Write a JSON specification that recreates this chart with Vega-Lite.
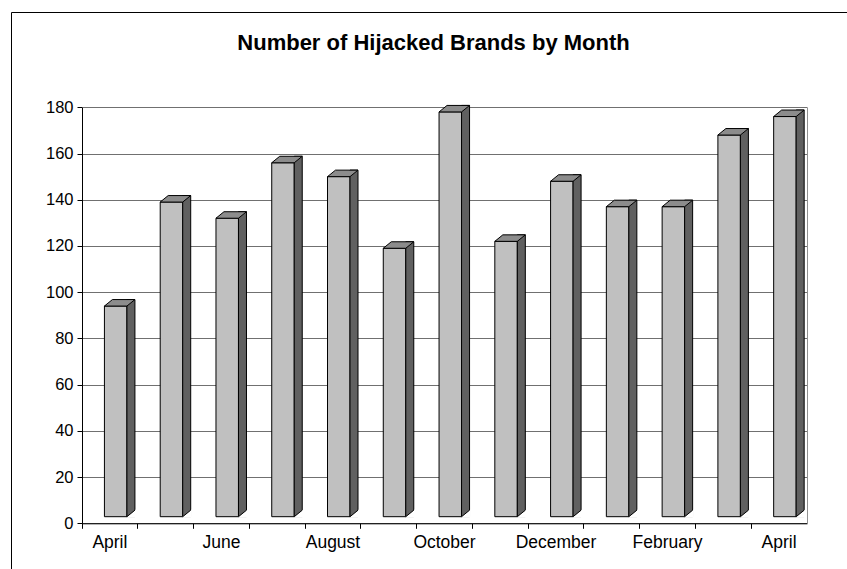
{
  "$schema": "https://vega.github.io/schema/vega-lite/v6.json",
  "autosize": {"type": "none"},
  "padding": {"left": 11, "top": 12, "right": 0, "bottom": 0},
  "width": 840,
  "height": 560,
  "background": "white",
  "config": {
    "view": {"stroke": "black", "strokeWidth": 1, "fill": "white"},
    "font": "Liberation Sans"
  },
  "title": {
    "text": "Number of Hijacked Brands by Month",
    "font": "Liberation Sans",
    "fontSize": 22,
    "fontWeight": "bold",
    "color": "black",
    "anchor": "middle",
    "frame": "group",
    "baseline": "alphabetic",
    "offset": -60,
    "dx": 2.5
  },
  "data": {
    "values": [
      {"i": 0, "month": "April", "value": 94},
      {"i": 1, "month": "May", "value": 139},
      {"i": 2, "month": "June", "value": 132},
      {"i": 3, "month": "July", "value": 156},
      {"i": 4, "month": "August", "value": 150},
      {"i": 5, "month": "September", "value": 119},
      {"i": 6, "month": "October", "value": 178},
      {"i": 7, "month": "November", "value": 122},
      {"i": 8, "month": "December", "value": 148},
      {"i": 9, "month": "January", "value": 137},
      {"i": 10, "month": "February", "value": 137},
      {"i": 11, "month": "March", "value": 168},
      {"i": 12, "month": "April", "value": 176}
    ]
  },
  "encoding": {
    "x": {
      "field": "i",
      "type": "ordinal",
      "scale": {"type": "band", "range": [71, 796], "paddingInner": 0, "paddingOuter": 0},
      "axis": {
        "orient": "bottom",
        "offset": -48.7,
        "title": null,
        "bandPosition": 0,
        "labelAngle": 0,
        "labelExpr": "datum.value % 2 == 0 ? ['April','May','June','July','August','September','October','November','December','January','February','March','April'][datum.value] : ''",
        "labelFont": "Liberation Sans",
        "labelFontSize": 17.5,
        "labelColor": "black",
        "labelPadding": 5,
        "labelOverlap": false,
        "tickSize": 5,
        "tickColor": "black",
        "domainColor": "black",
        "grid": false
      }
    }
  },
  "layer": [
    {
      "mark": {"type": "bar", "width": 22.5, "xOffset": 5.8, "y2Offset": -6.6, "fill": "#C0C0C0", "stroke": "black", "strokeWidth": 1},
      "encoding": {
        "y": {
          "field": "value",
          "type": "quantitative",
          "scale": {"domain": [0, 180], "range": [511.3, 95.3], "nice": false, "zero": true},
          "axis": {
            "orient": "left",
            "offset": -71,
            "title": null,
            "values": [0, 20, 40, 60, 80, 100, 120, 140, 160, 180],
            "labelFont": "Liberation Sans",
            "labelFontSize": 16.5,
            "labelColor": "black",
            "labelPadding": 4,
            "tickSize": 5,
            "tickColor": "black",
            "domainColor": "black",
            "grid": true,
            "gridColor": "#707070",
            "gridWidth": 1
          }
        },
        "y2": {"datum": 0}
      }
    },
    {
      "mark": {"type": "bar", "width": 8, "xOffset": 21.05, "yOffset": -6.5, "y2Offset": -6.6, "fill": "#606060", "stroke": "black", "strokeWidth": 1},
      "encoding": {
        "y": {
          "field": "value",
          "type": "quantitative",
          "axis": {
            "orient": "right",
            "offset": -44,
            "title": null,
            "labels": false,
            "ticks": false,
            "grid": false,
            "domainColor": "#909090"
          }
        },
        "y2": {"datum": 0}
      }
    },
    {
      "mark": {"type": "point", "shape": "M 11.25 -6.6 L 20.5 -14.1 L 20.5 -5.6 L 11.75 -5.6 Z", "size": 4, "filled": true, "fill": "white", "strokeWidth": 0, "opacity": 1, "xOffset": 5.8},
      "encoding": {
        "y": {"datum": 0, "type": "quantitative", "axis": null}
      }
    },
    {
      "mark": {"type": "point", "shape": "M 11.25 -6.6 L 19.25 -13.1", "size": 4, "filled": false, "stroke": "black", "strokeWidth": 1, "opacity": 1, "xOffset": 5.8},
      "encoding": {
        "y": {"datum": 0, "type": "quantitative", "axis": null}
      }
    },
    {
      "mark": {"type": "point", "shape": "M -11.25 0 L 11.25 0 L 19.25 -6.5 L -3.25 -6.5 Z", "size": 4, "filled": true, "fill": "#8C8C8C", "stroke": "black", "strokeWidth": 1, "opacity": 1, "xOffset": 5.8},
      "encoding": {
        "y": {"field": "value", "type": "quantitative", "axis": null}
      }
    }
  ],
  "resolve": {"axis": {"y": "independent"}}
}
